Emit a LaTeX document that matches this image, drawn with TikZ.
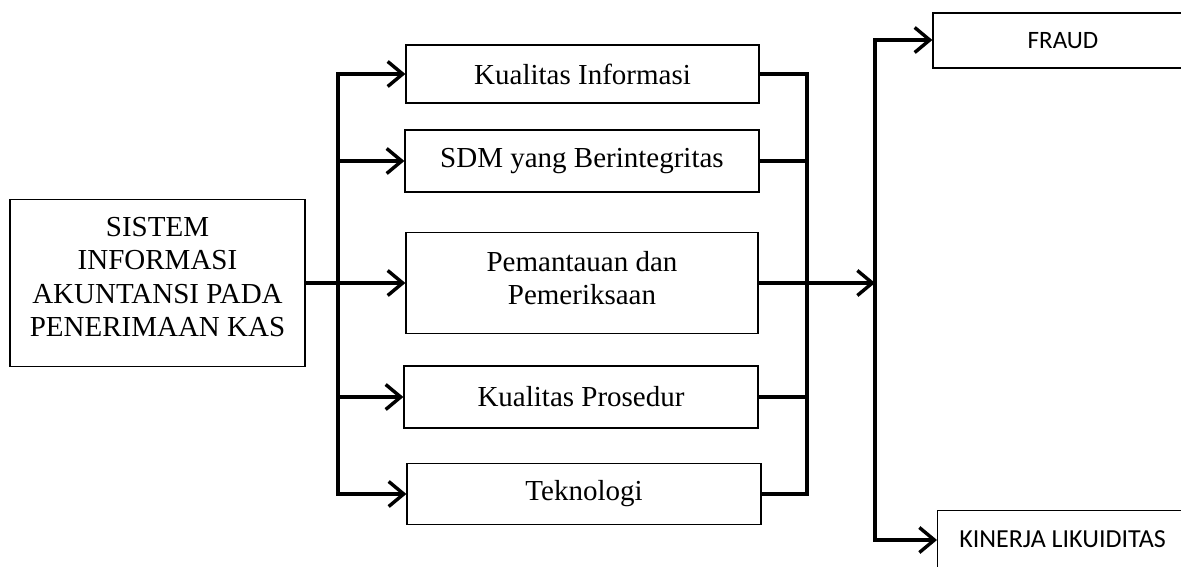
\documentclass[tikz,border=0pt]{standalone}
\usepackage{fontspec}
\setmainfont{Liberation Serif}
\newfontfamily\calib{Carlito}
\usetikzlibrary{arrows.meta}
\begin{document}
\begin{tikzpicture}[x=1pt,y=-1pt,
  box/.style={draw, line width=1.3pt, inner sep=0pt, align=center, font=\fontsize{29}{33}\selectfont},
  txt/.style={inner sep=0pt, align=center},
  rbox/.style={draw, line width=1.3pt, inner sep=0pt, font=\calib\fontsize{25}{30}\selectfont},
  conn/.style={line width=3.6pt},
  tip/.style={-{Straight Barb[length=15pt,width=25pt,line width=3.4pt]}},
  arr/.style={line width=3.6pt, tip}]
\useasboundingbox (0,0) rectangle (1181,567);
% nodes
\node[box, minimum width=295pt, minimum height=167pt] (src) at (157.5,283) {};
\node[txt, font=\fontsize{29}{33.3}\selectfont] (srct) at (157.5,277) {SISTEM\\INFORMASI\\AKUNTANSI PADA\\PENERIMAAN KAS};
\node[box, minimum width=353pt, minimum height=58pt] (b1) at (582.5,74) {Kualitas Informasi};
\node[box, minimum width=354pt, minimum height=62pt] (b2) at (582,161) {SDM yang Berintegritas};
\node[box, minimum width=352pt, minimum height=101pt] (b3) at (582,283) {};
\node[txt, font=\fontsize{29}{33}\selectfont] (b3t) at (582,278) {Pemantauan dan\\Pemeriksaan};
\node[box, minimum width=354pt, minimum height=62pt] (b4) at (581,397) {Kualitas Prosedur};
\node[box, minimum width=354pt, minimum height=61pt] (b5) at (584,494) {Teknologi};
\node[rbox, minimum width=260pt, minimum height=55pt] (fraud) at (1063,40.5) {FRAUD};
\node[rbox, anchor=north west, minimum width=251pt, minimum height=70pt] (kin) at (937,510) {};
\node[font=\calib\fontsize{26}{30}\selectfont, inner sep=0pt] (kintxt) at (1062.5,539) {KINERJA LIKUIDITAS};
% coordinates
\coordinate (t1top) at (338,74);
\coordinate (t1mid) at (338,283);
\coordinate (t1bot) at (338,494);
\coordinate (brtop) at (807,74);
\coordinate (brmid) at (807,283);
\coordinate (brbot) at (807,494);
\coordinate (t2top) at (875,40);
\coordinate (t2mid) at (875,283);
\coordinate (t2bot) at (875,540);
% left trunk
\draw[conn] (src.east) -- (t1mid);
\draw[conn] (t1top) -- (t1bot);
\draw[arr] ([xshift=-1.8pt]t1top) -- (b1.west);
\draw[arr] (t1top |- b2.west) -- (b2.west);
\draw[arr] (t1mid) -- (b3.west);
\draw[arr] (t1top |- b4.west) -- (b4.west);
\draw[arr] ([xshift=-1.8pt]t1bot) -- (b5.west);
% right bracket
\draw[conn] (b1.east) -- ([xshift=1.8pt]brtop);
\draw[conn] (b2.east) -- (brtop |- b2.east);
\draw[conn] (b3.east) -- (brmid);
\draw[conn] (b4.east) -- (brtop |- b4.east);
\draw[conn] (b5.east) -- ([xshift=1.8pt]brbot);
\draw[conn] (brtop) -- (brbot);
\draw[line width=3.2pt, tip] (brmid) -- (t2mid);
% second trunk
\draw[conn] (t2top) -- (t2bot);
\draw[arr] ([xshift=-1.8pt]t2top) -- (fraud.west |- t2top);
\draw[arr] ([xshift=-1.8pt]t2bot) -- (kin.west |- t2bot);
\end{tikzpicture}
\end{document}
